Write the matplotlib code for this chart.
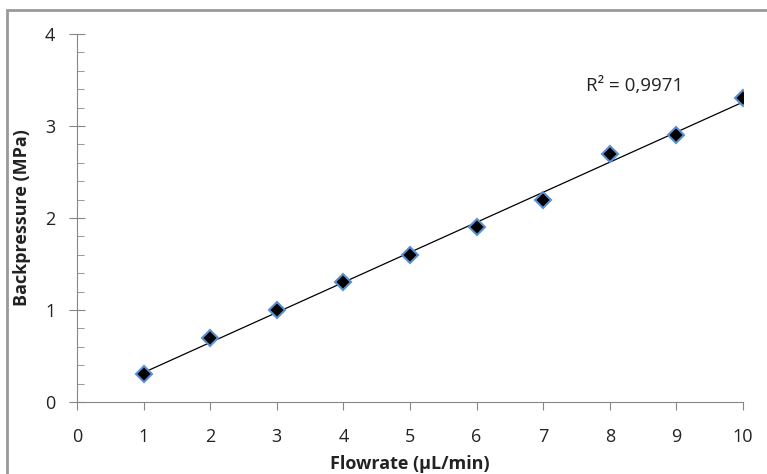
import matplotlib
matplotlib.use("Agg")
import matplotlib.pyplot as plt
from matplotlib.patches import Rectangle
from matplotlib.ticker import MultipleLocator
import numpy as np

flowrate = [1, 2, 3, 4, 5, 6, 7, 8, 9, 10]
backpressure = [0.3, 0.7, 1.0, 1.3, 1.6, 1.9, 2.2, 2.7, 2.9, 3.3]
r2_text = "R² = 0,9971"

plt.rcParams["font.family"] = ["Open Sans", "DejaVu Sans"]
AXC = "#868686"
TXT = "#222222"

fig = plt.figure(figsize=(7.67, 4.74), dpi=100)
ax = fig.add_axes([77/767, 1 - 402/474, (743 - 77)/767, (402 - 34)/474])

# linear trend line
k, b = np.polyfit(flowrate, backpressure, 1)
xs = np.array([min(flowrate), max(flowrate)])
ax.plot(xs, k*xs + b, color="black", lw=0.9, zorder=2)
ax.plot(flowrate, backpressure, ls="none", marker="D", ms=8.5, mfc="black",
        mec="#5b8fd0", mew=1.5, zorder=3)

ax.text(7.65, 3.43, r2_text, fontsize=13.5, color=TXT, va="center", ha="left")

ax.set_xlim(0, 10)
ax.set_ylim(0, 4)
ax.set_xticks(range(0, 11))
ax.set_yticks(range(0, 5))
ax.yaxis.set_minor_locator(MultipleLocator(0.2))
for s in ("top", "right"):
    ax.spines[s].set_visible(False)
for s in ("left", "bottom"):
    ax.spines[s].set_color(AXC)
ax.tick_params(axis="x", direction="out", length=6, color=AXC, labelsize=13, pad=13, labelcolor=TXT)
ax.tick_params(axis="y", which="major", direction="inout", length=11, color=AXC, labelsize=13, pad=10, labelcolor=TXT)
ax.tick_params(axis="y", which="minor", direction="in", length=5, color=AXC)

ax.set_xlabel("Flowrate (µL/min)", fontsize=13, fontweight="bold", labelpad=6, color=TXT)
ax.set_ylabel("Backpressure (MPa)", fontsize=13, fontweight="bold", labelpad=10, color=TXT)

fig.patches.append(Rectangle((7/767, -0.05), 1.1, 1 - 10/474 + 0.05, transform=fig.transFigure,
                             fill=False, edgecolor="#999999", lw=2))

fig.savefig("out.png", dpi=100)
